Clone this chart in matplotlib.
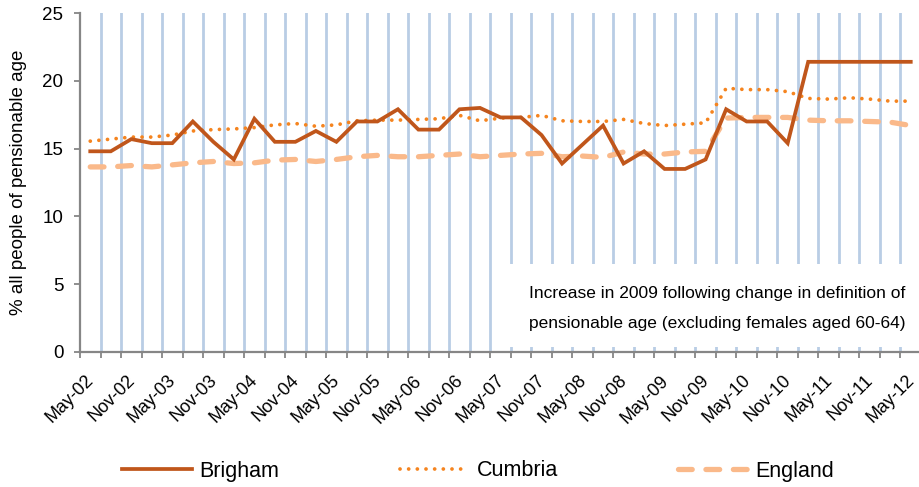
import matplotlib
matplotlib.use("Agg")
import matplotlib.pyplot as plt
from matplotlib.patches import Rectangle

plt.rcParams['font.family'] = ['Liberation Sans', 'DejaVu Sans']

# ---- data ----
months = ["May", "Aug", "Nov", "Feb"]
period_labels = []
for yr in range(2, 13):
    for m in months:
        if m == "Feb":
            lab = f"{m}-{yr+1:02d}"
        else:
            lab = f"{m}-{yr:02d}"
        period_labels.append(lab)
period_labels = period_labels[:41]

brigham = [14.8, 14.8, 15.7, 15.4, 15.4, 17.0, 15.5, 14.2, 17.2, 15.5,
           15.5, 16.3, 15.5, 17.0, 17.0, 17.9, 16.4, 16.4, 17.9, 18.0,
           17.3, 17.3, 16.0, 13.9, 15.3, 16.7, 13.9, 14.8, 13.5, 13.5,
           14.2, 17.9, 17.0, 17.0, 15.4, 21.4, 21.4, 21.4, 21.4, 21.4, 21.4]
cumbria = [15.55, 15.7, 15.85, 15.85, 16.0, 16.3, 16.4, 16.45, 16.55, 16.75,
           16.85, 16.65, 16.75, 17.05, 17.1, 17.1, 17.15, 17.2, 17.45, 17.05,
           17.25, 17.3, 17.45, 17.05, 17.0, 17.0, 17.15, 16.85, 16.7, 16.8,
           16.9, 19.45, 19.35, 19.35, 19.2, 18.7, 18.65, 18.75, 18.65, 18.5, 18.5]
england = [13.65, 13.65, 13.75, 13.65, 13.8, 13.95, 14.05, 13.9, 13.95, 14.15,
           14.2, 14.05, 14.2, 14.4, 14.5, 14.4, 14.4, 14.5, 14.6, 14.4,
           14.5, 14.6, 14.65, 14.4, 14.45, 14.35, 14.75, 14.6, 14.6, 14.75,
           14.8, 17.25, 17.3, 17.3, 17.3, 17.1, 17.05, 17.05, 17.0, 16.95, 16.7]
y_ticks = [0, 5, 10, 15, 20, 25]
note_lines = ["Increase in 2009 following change in definition of",
              "pensionable age (excluding females aged 60-64)"]

# ---- figure ----
W, H = 919, 487
fig = plt.figure(figsize=(W / 100, H / 100), dpi=100)
ax = fig.add_axes([80 / W, 1 - 352 / H, 841 / W, 339 / H])

n = len(brigham)
x = list(range(n))

grid_col = '#B9CDE5'
axis_col = '#868686'

# category boundaries -> gridlines and tick marks
bounds = [i - 0.5 for i in range(n + 1)]
for b in bounds[1:]:
    ax.axvline(b, color=grid_col, lw=2.0, zorder=1)

# white note box (covers gridlines)
box = Rectangle(((503 - 80) / 841, 5 / 339), 1.0, (347 - 264) / 339,
                transform=ax.transAxes, facecolor='white', edgecolor='none', zorder=2)
ax.add_patch(box)

l1, = ax.plot(x, brigham, color='#C0561B', lw=2.7, zorder=5,
              solid_joinstyle='miter', label='Brigham')
l2, = ax.plot(x, cumbria, color='#F5841F', lw=2.7, zorder=4,
              linestyle=(0, (0.01, 2.3)), dash_capstyle='round', label='Cumbria')
l3, = ax.plot(x, england, color='#FAB98A', lw=3.8, zorder=3,
              linestyle=(0, (2.6, 2.6)), dash_capstyle='round', label='England')

ax.set_xlim(-0.5, n - 0.5)
ax.set_ylim(0, 25)
ax.set_yticks(y_ticks)
ax.set_yticklabels([str(v) for v in y_ticks])

ax.set_xticks(bounds)
ax.set_xticklabels([])
# category labels every second period, rotated
for xi, lab in zip(x[::2], period_labels[::2]):
    ax.annotate(lab, xy=(xi, 0), xycoords=('data', 'axes fraction'),
                xytext=(-5, -20), textcoords='offset pixels',
                rotation=45, ha='right', va='top', rotation_mode='anchor',
                fontsize=13, annotation_clip=False)
ax.tick_params(axis='x', which='major', length=4, width=1.3, color=axis_col, direction='out')
ax.tick_params(axis='y', length=4, width=1.3, color=axis_col, labelsize=13.5, pad=8)

for s in ['top', 'right']:
    ax.spines[s].set_visible(False)
for s in ['left', 'bottom']:
    ax.spines[s].set_color(axis_col)
    ax.spines[s].set_linewidth(1.6)
    ax.spines[s].set_zorder(6)

ax.set_ylabel('% all people of pensionable age', fontsize=13.5, labelpad=11)

fig.text(529 / W, 1 - 298 / H, note_lines[0], fontsize=12.5, va='baseline', ha='left')
fig.text(529 / W, 1 - 328 / H, note_lines[1], fontsize=12.5, va='baseline', ha='left')

fig.legend(handles=[l1, l2, l3], loc='center left',
           bbox_to_anchor=(122 / W, 1 - 471 / H), ncol=3, frameon=False,
           fontsize=15.5, handlelength=3.25, handletextpad=0.33,
           columnspacing=5.6, borderpad=0, borderaxespad=0)

fig.savefig('out.png', dpi=100)
